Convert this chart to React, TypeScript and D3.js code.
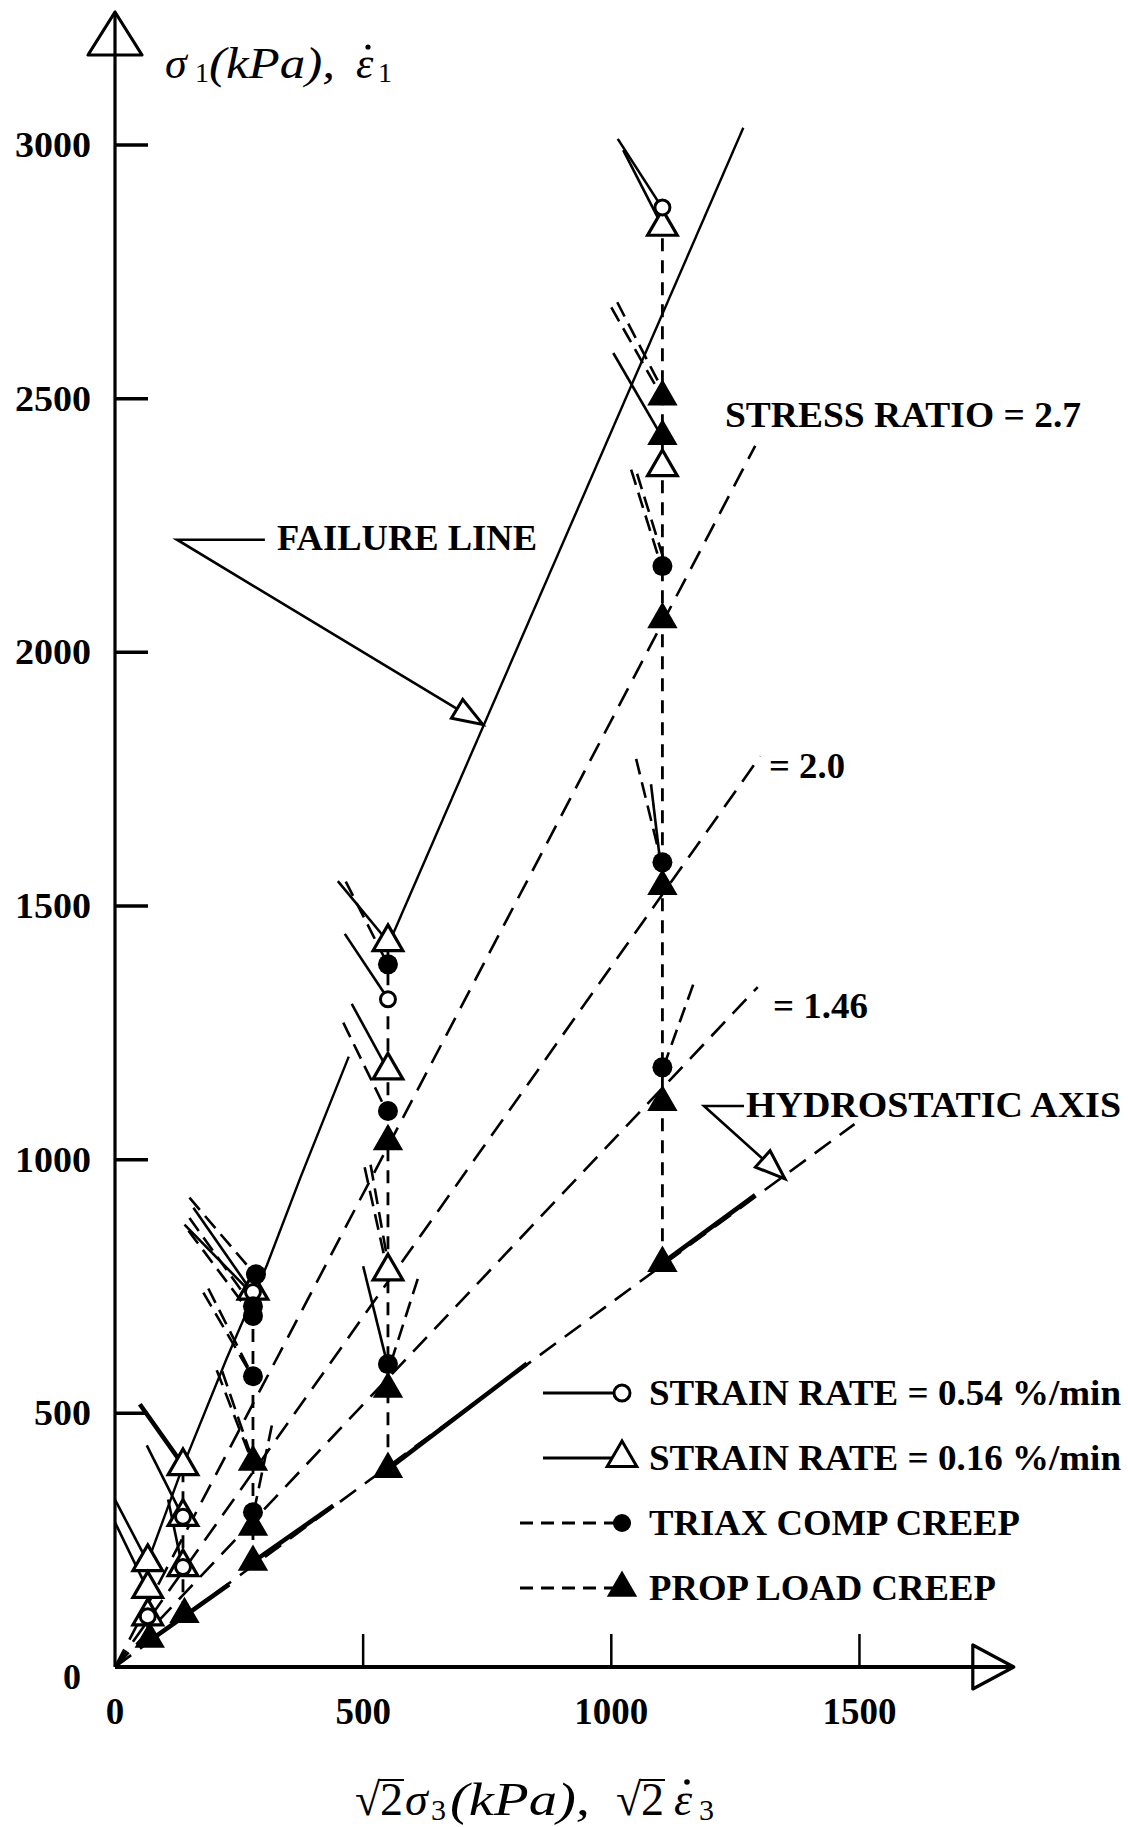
import React from 'react';
import * as d3 from 'd3';

const W = 1128;
const H = 1827;

// ---- axis ticks ----
const xTicks = [500, 1000, 1500];
const xTickLabels = [0, 500, 1000, 1500];
const yTicks = [500, 1000, 1500, 2000, 2500, 3000];

// ---- markers [x, y] (x = sqrt2*sigma3, y = sigma1, kPa) ----
const openCircles = [[1103, 2877], [550, 1316], [278, 739], [137, 296], [137, 197], [66, 100]];
const openTriangles = [
  [1103, 2839], [1103, 2365], [550, 1429], [550, 1176], [550, 780],
  [278, 742], [137, 396], [137, 296], [137, 197], [66, 207], [66, 154], [66, 100],
];
const filledCircles = [
  [1103, 2170], [1103, 1586], [1103, 1182], [550, 1385], [550, 1096], [550, 597],
  [284, 774], [278, 711], [278, 692], [278, 573], [278, 305],
];
const filledTriangles = [
  [1103, 2504], [1103, 2426], [1103, 2065], [1103, 1539], [1103, 1113], [1103, 796],
  [550, 1036], [550, 548], [550, 390], [278, 404], [278, 276], [278, 207], [140, 104], [70, 55],
];

// ---- stress paths (constant sigma3), bottom to top ----
const stressPaths = [
  [[1103, 796], [1103, 2839]],
  [[550, 390], [550, 1429]],
  [[278, 207], [278, 774]],
  [[137, 104], [137, 396]],
  [[66, 55], [66, 207]],
];

// ---- radial stress-ratio lines from the origin: end points ----
const ratioEnds = [[1290, 2407], [1300, 1795], [1295, 1340], [1490, 1070]];

// ---- failure line ----
const failureLower = [[66, 207], [137, 396], [225, 608], [306, 792], [373, 963], [471, 1203]];
const failureUpper = [[558, 1440], [1266, 3034]];

// ---- strain increment vectors [x1, y1, x2, y2] ----
const solidVectors = [
  [1013, 3012, 1100, 2880], [1024, 2990, 1100, 2845], [1004, 2590, 1100, 2428],
  [1080, 1740, 1097, 1600],
  [449, 1549, 548, 1432], [463, 1445, 548, 1320], [477, 1307, 548, 1180], [500, 790, 548, 600],
  [158, 905, 272, 745], [140, 872, 270, 742],
  [64, 437, 135, 299], [107, 330, 135, 200], [0, 330, 64, 210], [0, 285, 64, 156],
];
const dashedVectors = [
  [1000, 2680, 1100, 2507], [1012, 2690, 1106, 2512], [1040, 2360, 1100, 2172],
  [1052, 2352, 1106, 2182], [1050, 1790, 1100, 1590], [1165, 1345, 1106, 1185],
  [465, 1548, 548, 1388], [460, 1270, 546, 1098], [515, 990, 548, 808], [503, 985, 542, 812],
  [610, 765, 556, 600],
  [150, 925, 280, 776], [150, 885, 276, 713], [148, 860, 276, 693], [188, 746, 276, 576],
  [178, 738, 272, 580], [216, 583, 278, 406], [205, 585, 274, 410], [316, 476, 280, 307],
];
const thickVectors = [
  [1103, 796, 1290, 930], [550, 390, 830, 598], [278, 207, 440, 318], [70, 52, 230, 163],
  [50, 518, 137, 398],
];

// ---- annotations ----
const annotations = [
  { text: 'FAILURE LINE', x: 277, y: 550, len: 260 },
  { text: 'STRESS RATIO = 2.7', x: 725, y: 427, len: 356 },
  { text: '= 2.0', x: 769, y: 778, len: 76 },
  { text: '= 1.46', x: 773, y: 1018, len: 95 },
  { text: 'HYDROSTATIC AXIS', x: 746, y: 1117, len: 375 },
];
const legendItems = [
  { text: 'STRAIN RATE = 0.54 %/min', kind: 'oc', len: 472 },
  { text: 'STRAIN RATE = 0.16 %/min', kind: 'ot', len: 472 },
  { text: 'TRIAX COMP CREEP', kind: 'fc', len: 371 },
  { text: 'PROP LOAD CREEP', kind: 'ft', len: 347 },
];

const SERIF = "'Liberation Serif', 'Times New Roman', serif";

export default function App() {
  const x = d3.scaleLinear().domain([0, 1500]).range([115, 115 + 1500 * 0.4963]);
  const y = d3.scaleLinear().domain([0, 3000]).range([1667, 145]);
  const line = d3.line<number[]>().x(d => x(d[0])).y(d => y(d[1]));
  const tri = d3.symbol().type(d3.symbolTriangle).size(380)();
  const triF = d3.symbol().type(d3.symbolTriangle).size(400)();

  const x0 = x(0);
  const y0 = y(0);
  const xEnd = x(1811);
  const yTop = 12;

  const legendTop = 1393;
  const legendStep = 65;
  const legMark = 622;

  const seg = (v: number[], i: number, extra: any) => (
    <line key={i} x1={x(v[0])} y1={y(v[1])} x2={x(v[2])} y2={y(v[3])} stroke="#000" {...extra} />
  );

  const it = { fontFamily: SERIF, fontStyle: 'italic' as const };
  const up = { fontFamily: SERIF };

  return (
    <div style={{ position: 'absolute', left: 0, top: 0 }}>
      <svg width={W} height={H} style={{ display: 'block', background: '#fff' }}>
        <rect x={0} y={0} width={W} height={H} fill="#fff" />

        {/* radial stress ratio lines */}
        {ratioEnds.map((e, i) => (
          <path key={'r' + i} d={line([[0, 0], e]) || ''} fill="none" stroke="#000"
            strokeWidth={2.6} strokeDasharray="20 11" />
        ))}

        {/* stress paths */}
        {stressPaths.map((p, i) => (
          <path key={'sp' + i} d={line(p) || ''} fill="none" stroke="#000"
            strokeWidth={2.8} strokeDasharray="13 9" />
        ))}

        {/* failure line */}
        <path d={line(failureLower) || ''} fill="none" stroke="#000" strokeWidth={2.4} />
        <path d={line(failureUpper) || ''} fill="none" stroke="#000" strokeWidth={2.4} />

        {/* strain increment vectors */}
        {solidVectors.map((v, i) => seg(v, i, { strokeWidth: 2.6 }))}
        {dashedVectors.map((v, i) => seg(v, 100 + i, { strokeWidth: 2.6, strokeDasharray: '16 8' }))}
        {thickVectors.map((v, i) => seg(v, 200 + i, { strokeWidth: 4.5 }))}

        {/* markers */}
        {openTriangles.map((p, i) => (
          <path key={'ot' + i} d={tri || ''} transform={`translate(${x(p[0])},${y(p[1])})`}
            fill="#fff" stroke="#000" strokeWidth={3.2} strokeLinejoin="miter" />
        ))}
        {openCircles.map((p, i) => (
          <circle key={'oc' + i} cx={x(p[0])} cy={y(p[1])} r={7.5} fill="#fff" stroke="#000" strokeWidth={3} />
        ))}
        {filledTriangles.map((p, i) => (
          <path key={'ft' + i} d={triF || ''} transform={`translate(${x(p[0])},${y(p[1])})`} fill="#000" />
        ))}
        {filledCircles.map((p, i) => (
          <circle key={'fc' + i} cx={x(p[0])} cy={y(p[1])} r={10} fill="#000" />
        ))}

        {/* axes */}
        <line x1={x0} y1={y0} x2={x0} y2={yTop} stroke="#000" strokeWidth={3.2} />
        <path d={`M${x0},${yTop} L${x0 - 27},${yTop + 43} L${x0 + 27},${yTop + 43} Z`}
          fill="none" stroke="#000" strokeWidth={3.2} strokeLinejoin="round" />
        <line x1={x0} y1={y0} x2={xEnd} y2={y0} stroke="#000" strokeWidth={4} />
        <path d={`M${xEnd},${y0} L${xEnd - 41},${y0 - 22} L${xEnd - 41},${y0 + 22} Z`}
          fill="none" stroke="#000" strokeWidth={3.2} strokeLinejoin="round" />

        {yTicks.map(t => (
          <g key={'yt' + t}>
            <line x1={x0} x2={x0 + 33} y1={y(t)} y2={y(t)} stroke="#000" strokeWidth={3.5} />
            <text x={91} y={y(t) + 12} textAnchor="end" fontFamily={SERIF} fontWeight="bold" fontSize={36}
              textLength={String(t).length * 19} lengthAdjust="spacingAndGlyphs">{t}</text>
          </g>
        ))}
        <text x={72} y={y0 + 22} textAnchor="middle" fontFamily={SERIF} fontWeight="bold" fontSize={36}>0</text>
        {xTicks.map(t => (
          <line key={'xt' + t} x1={x(t)} x2={x(t)} y1={y0} y2={y0 - 33} stroke="#000" strokeWidth={2.5} />
        ))}
        {xTickLabels.map(t => (
          <text key={'xl' + t} x={x(t)} y={1724} textAnchor="middle" fontFamily={SERIF} fontWeight="bold"
            fontSize={37}>{t}</text>
        ))}

        {/* y axis title: sigma1(kPa), eps-dot 1 */}
        <text x={165} y={78} {...it} fontSize={44}>σ</text>
        <text x={195} y={82} {...up} fontSize={28}>1</text>
        <text x={209} y={78} {...it} fontSize={44} textLength={126} lengthAdjust="spacingAndGlyphs">(kPa),</text>
        <text x={356} y={78} {...it} fontSize={44}>ε</text>
        <circle cx={368} cy={47} r={2.6} fill="#000" />
        <text x={378} y={82} {...up} fontSize={28}>1</text>

        {/* x axis title: sqrt2 sigma3(kPa), sqrt2 eps-dot 3 */}
        <text x={355} y={1815} {...up} fontSize={46}>√</text>
        <text x={380} y={1815} {...up} fontSize={46}>2</text>
        <line x1={378} x2={404} y1={1780} y2={1780} stroke="#000" strokeWidth={2} />
        <text x={405} y={1815} {...it} fontSize={46}>σ</text>
        <text x={431} y={1820} {...up} fontSize={30}>3</text>
        <text x={450} y={1815} {...it} fontSize={46} textLength={140} lengthAdjust="spacingAndGlyphs">(kPa),</text>
        <text x={616} y={1815} {...up} fontSize={46}>√</text>
        <text x={641} y={1815} {...up} fontSize={46}>2</text>
        <line x1={639} x2={665} y1={1780} y2={1780} stroke="#000" strokeWidth={2} />
        <text x={674} y={1815} {...it} fontSize={46}>ε</text>
        <circle cx={687} cy={1782} r={2.8} fill="#000" />
        <text x={699} y={1820} {...up} fontSize={30}>3</text>

        {/* annotations */}
        {annotations.map(a => (
          <text key={a.text} x={a.x} y={a.y} fontFamily={SERIF} fontWeight="bold" fontSize={36}
            textLength={a.len} lengthAdjust="spacingAndGlyphs">{a.text}</text>
        ))}
        {/* failure line leader */}
        <path d={`M${x(302)},${y(2222)} L${x(125)},${y(2222)} L${x(741)},${y(1858)}`} fill="none" stroke="#000" strokeWidth={2.6} />
        {(() => {
          const tx = x(741), ty = y(1858);
          const ang = Math.atan2(ty - y(2222), tx - x(125)) * 180 / Math.PI;
          return <path d="M0,0 L-30,-11 L-30,11 Z" transform={`translate(${tx},${ty}) rotate(${ang})`} fill="#fff" stroke="#000" strokeWidth={3} />;
        })()}
        {/* hydrostatic leader */}
        <path d={`M744,1106 L704,1106 L${x(1350)},${y(962)}`} fill="none" stroke="#000" strokeWidth={2.6} />
        {(() => {
          const tx = x(1350), ty = y(962);
          const ang = Math.atan2(ty - 1106, tx - 704) * 180 / Math.PI;
          return <path d="M0,0 L-30,-11 L-30,11 Z" transform={`translate(${tx},${ty}) rotate(${ang})`} fill="#fff" stroke="#000" strokeWidth={3} />;
        })()}

        {/* legend */}
        {legendItems.map((li, i) => {
          const ly = legendTop + i * legendStep;
          const dashed = li.kind === 'fc' || li.kind === 'ft';
          return (
            <g key={li.text}>
              <line x1={dashed ? 520 : 543} x2={legMark - 8} y1={ly} y2={ly} stroke="#000" strokeWidth={2.8}
                strokeDasharray={dashed ? '13 8' : undefined} />
              {li.kind === 'oc' && <circle cx={legMark} cy={ly} r={8} fill="#fff" stroke="#000" strokeWidth={3} />}
              {li.kind === 'ot' && <path d={tri || ''} transform={`translate(${legMark},${ly})`} fill="#fff" stroke="#000" strokeWidth={3} />}
              {li.kind === 'fc' && <circle cx={legMark} cy={ly} r={9} fill="#000" />}
              {li.kind === 'ft' && <path d={triF || ''} transform={`translate(${legMark},${ly})`} fill="#000" />}
              <text x={649} y={ly + 12} fontFamily={SERIF} fontWeight="bold" fontSize={36}
                textLength={li.len} lengthAdjust="spacingAndGlyphs">{li.text}</text>
            </g>
          );
        })}
      </svg>
    </div>
  );
}
